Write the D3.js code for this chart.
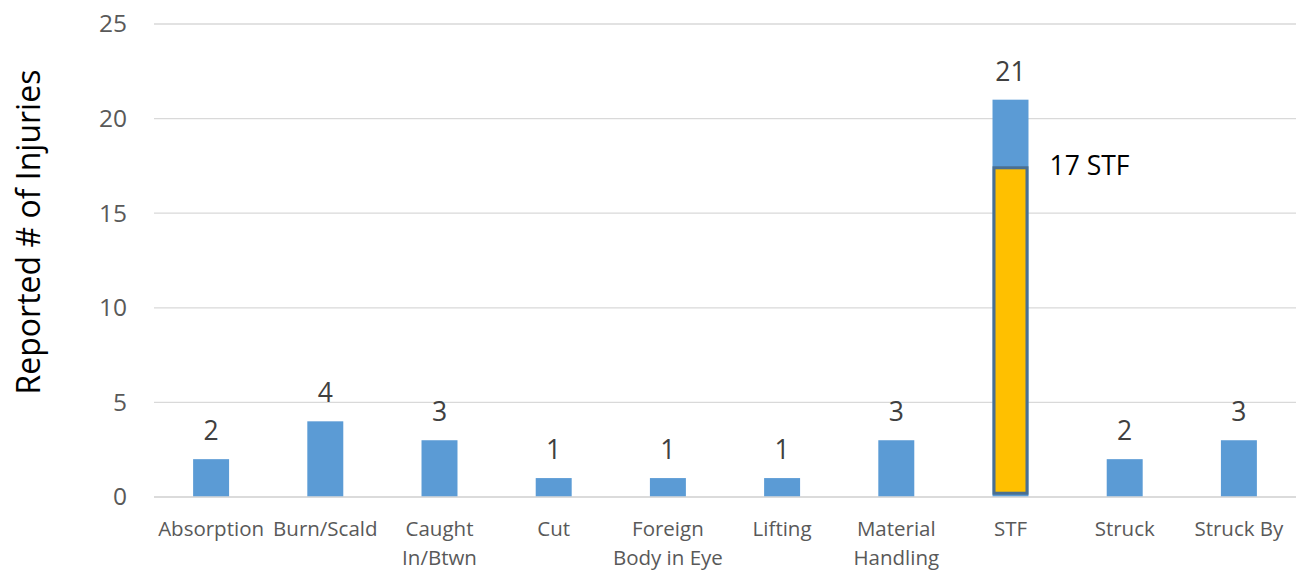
<!DOCTYPE html>
<html><head><meta charset="utf-8">
<script src="https://cdn.jsdelivr.net/npm/d3@7"></script>
<style>body{margin:0;background:#fff}svg{display:block}</style>
</head><body>
<script>
const categories = ["Absorption","Burn/Scald","Caught In/Btwn","Cut","Foreign Body in Eye","Lifting","Material Handling","STF","Struck","Struck By"];
const categoryLines = [["Absorption"],["Burn/Scald"],["Caught","In/Btwn"],["Cut"],["Foreign","Body in Eye"],["Lifting"],["Material","Handling"],["STF"],["Struck"],["Struck By"]];
const injuries = [2,4,3,1,1,1,3,21,2,3];
const overlayCategory = "STF";
const overlayRange = [0.2, 17.4];
const overlayLabel = "17 STF";
const yTicks = [0,5,10,15,20,25];

const W=1305,H=570;
const m={left:154,right:9,top:24,bottom:73};
const svg=d3.select("body").append("svg").attr("width",W).attr("height",H);
const font="Open Sans, sans-serif";
const x=d3.scaleBand().domain(categories).range([m.left,W-m.right]).paddingInner(0.685).paddingOuter(0.3425);
const y=d3.scaleLinear().domain([0,25]).range([H-m.bottom,m.top]);

const grid=svg.append("g");
grid.selectAll("line").data(yTicks).join("line")
 .attr("x1",m.left).attr("x2",W-m.right).attr("y1",d=>y(d)).attr("y2",d=>y(d))
 .attr("stroke","#d9d9d9").attr("stroke-width",1.3);

const yAxis=svg.append("g").attr("transform",`translate(${m.left},0)`)
 .call(d3.axisLeft(y).tickValues(yTicks).tickSize(0).tickPadding(27));
yAxis.select(".domain").remove();
yAxis.selectAll("text").attr("font-family",font).attr("font-size",24.5).attr("fill","#595959");

svg.append("g").selectAll("rect").data(categories).join("rect")
 .attr("x",d=>x(d)).attr("width",x.bandwidth())
 .attr("y",(d,i)=>y(injuries[i])).attr("height",(d,i)=>y(0)-y(injuries[i]))
 .attr("fill","#5b9bd5");

svg.append("g").selectAll("text").data(categories).join("text")
 .attr("x",d=>x(d)+x.bandwidth()/2).attr("y",(d,i)=>y(injuries[i])-19)
 .attr("text-anchor","middle").attr("font-family",font).attr("font-size",26.5).attr("fill","#404040")
 .text((d,i)=>injuries[i]);

// overlay
svg.append("rect")
 .attr("x",x(overlayCategory)+1.5).attr("width",x.bandwidth()-3)
 .attr("y",y(overlayRange[1])).attr("height",y(overlayRange[0])-y(overlayRange[1]))
 .attr("fill","#ffc000").attr("stroke","#4a6f91").attr("stroke-width",3);
svg.append("text").attr("x",x(overlayCategory)+x.bandwidth()+21).attr("y",175)
 .attr("font-family",font).attr("font-size",26.5).attr("fill","#000").text(overlayLabel);

// x axis
svg.append("line").attr("x1",m.left).attr("x2",W-m.right).attr("y1",y(0)).attr("y2",y(0))
 .attr("stroke","#d9d9d9").attr("stroke-width",1.3);
const xl=svg.append("g").selectAll("text").data(categories).join("text")
 .attr("x",d=>x(d)+x.bandwidth()/2).attr("y",536)
 .attr("text-anchor","middle").attr("font-family",font).attr("font-size",20.5).attr("fill","#595959");
xl.each(function(d,i){
  const t=d3.select(this);
  categoryLines[i].forEach((s,j)=>t.append("tspan").attr("x",x(d)+x.bandwidth()/2).attr("dy",j?29:0).text(s));
});

svg.append("text").attr("transform",`translate(40,232) rotate(-90)`)
 .attr("text-anchor","middle").attr("font-family",font).attr("font-size",32).attr("fill","#000")
 .text("Reported # of Injuries");
</script>
</body></html>
